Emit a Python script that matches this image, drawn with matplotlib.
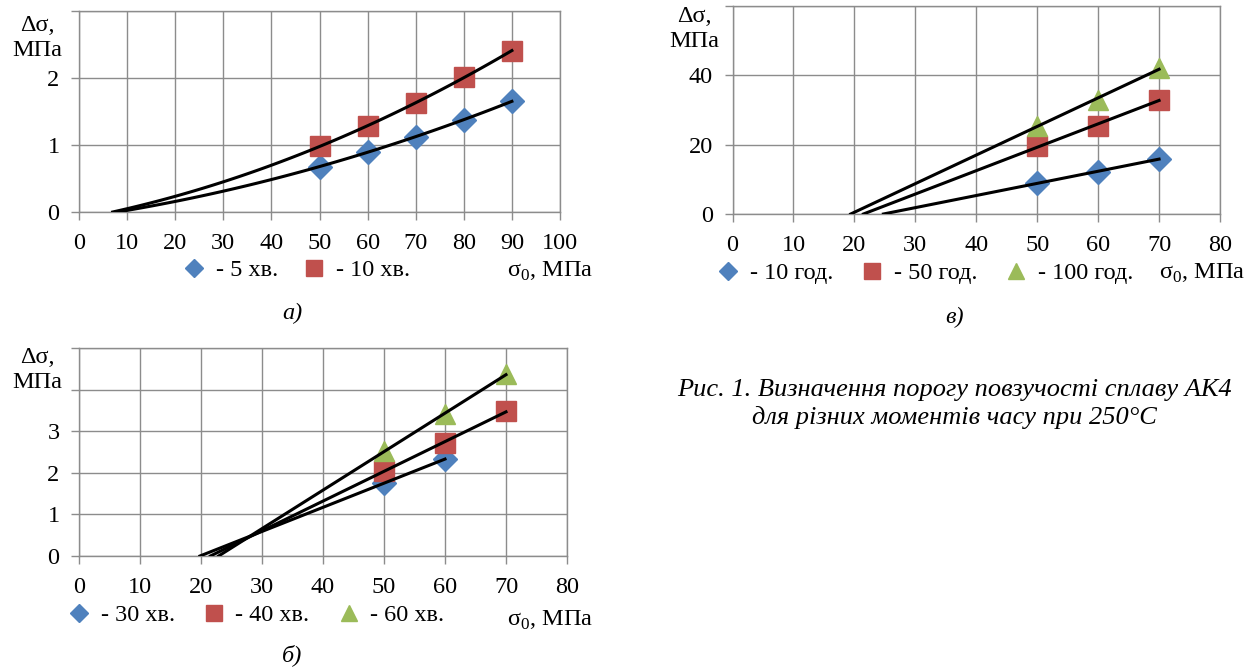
import numpy as np
import matplotlib
matplotlib.use("Agg")
import matplotlib.pyplot as plt

plt.rcParams['font.family'] = ['Liberation Serif', 'DejaVu Serif']
plt.rcParams['mathtext.fontset'] = 'custom'
plt.rcParams['mathtext.rm'] = 'Liberation Serif'

W, H = 1253, 672
BLUE, RED, GREEN = '#4F81BD', '#C0504D', '#9BBB59'
GRID = '#8c8c8c'
FS = 17.5

# panel а) : 5 and 10 minutes
a_x = [50, 60, 70, 80, 90]
a_5min = [0.67, 0.90, 1.12, 1.37, 1.65]
a_10min = [0.98, 1.28, 1.62, 2.01, 2.40]
a_thresholds = [8, 7]          # where trend curves meet zero
a_labels = ['- 5 хв.', '- 10 хв.']

# panel б) : 30, 40, 60 minutes
b_x30 = [50, 60]
b_30min = [1.75, 2.33]
b_x = [50, 60, 70]
b_40min = [2.05, 2.72, 3.48]
b_60min = [2.52, 3.41, 4.37]
b_labels = ['- 30 хв.', '- 40 хв.', '- 60 хв.']

# panel в) : 10, 50, 100 hours
c_x = [50, 60, 70]
c_10h = [9.0, 12.0, 16.0]
c_50h = [19.5, 25.5, 33.0]
c_100h = [25.5, 33.0, 42.0]
c_labels = ['- 10 год.', '- 50 год.', '- 100 год.']

fig = plt.figure(figsize=(W / 100, H / 100), dpi=100)


def px_axes(l, t, r, b):
    return fig.add_axes([l / W, 1 - b / H, (r - l) / W, (b - t) / H])


def style(ax, xmax, ymax, yticks, ylabels):
    ax.set_xlim(0, xmax)
    ax.set_ylim(0, ymax)
    ax.set_xticks(np.arange(0, xmax + 1, 10))
    ax.set_yticks(yticks)
    ax.set_yticklabels(ylabels)
    ax.grid(True, color=GRID, lw=1.0)
    ax.set_axisbelow(True)
    for s in ax.spines.values():
        s.set_color(GRID)
        s.set_linewidth(1.0)
    ax.tick_params(axis='both', direction='out', length=6, width=1.0,
                   color=GRID, labelsize=FS)
    ax.tick_params(axis='x', pad=9)
    ax.tick_params(axis='y', pad=8)


def linear_trend(ax, x, y):
    k, c = np.polyfit(x, y, 1)
    xs = np.array([-c / k, x[-1]])
    ax.plot(xs, k * xs + c, color='black', lw=2.2, zorder=4)


def curve_trend(ax, x, y, x0):
    x = np.asarray(x, float)
    d = x - x0
    A = np.column_stack([d, d ** 2])
    coef = np.linalg.lstsq(A, np.asarray(y), rcond=None)[0]
    xs = np.linspace(x0, x[-1], 100)
    ds = xs - x0
    ax.plot(xs, coef[0] * ds + coef[1] * ds ** 2, color='black', lw=2.2, zorder=4)


def ylabel(x, y):
    fig.text(x / W, 1 - y / H, 'Δσ,\nМПа', ha='center', va='center',
             fontsize=FS, linespacing=1.25)


def xlabel(x, y):
    fig.text(x / W, 1 - y / H, 'σ$_\\mathregular{0}$, МПа', ha='right',
             va='center', fontsize=FS)


def legend(ax, handles, labels, x, y, colsp):
    ax.legend(handles, labels, loc='center left',
              bbox_to_anchor=(x / W, 1 - y / H), bbox_transform=fig.transFigure,
              ncol=len(labels), frameon=False, fontsize=FS, handlelength=0.8,
              handletextpad=0.5, columnspacing=colsp, borderpad=0,
              borderaxespad=0, markerscale=0.8)


MS = dict(D=12, s=14, **{'^': 14})

# ---- а)
ax = px_axes(79, 10.5, 560, 212)
style(ax, 100, 3, [0, 1, 2, 3], ['0', '1', '2', ''])
h1, = ax.plot(a_x, a_5min, 'D', color=BLUE, ms=MS['D'], ls='none', zorder=3)
h2, = ax.plot(a_x, a_10min, 's', color=RED, ms=MS['s'], ls='none', zorder=3)
curve_trend(ax, a_x, a_5min, a_thresholds[0])
curve_trend(ax, a_x, a_10min, a_thresholds[1])
ylabel(37, 38)
xlabel(593, 271)
legend(ax, [h1, h2], a_labels, 184, 270, 1.1)
fig.text(292 / W, 1 - 313 / H, 'а)', ha='center', va='center',
         fontsize=FS, style='italic')

# ---- в)
ax = px_axes(732.5, 6, 1220, 214)
style(ax, 80, 60, [0, 20, 40, 60], ['0', '20', '40', ''])
g1, = ax.plot(c_x, c_10h, 'D', color=BLUE, ms=MS['D'], ls='none', zorder=3)
g2, = ax.plot(c_x, c_50h, 's', color=RED, ms=MS['s'], ls='none', zorder=3)
g3, = ax.plot(c_x, c_100h, '^', color=GREEN, ms=MS['^'], ls='none', zorder=3)
for ys in (c_10h, c_50h, c_100h):
    linear_trend(ax, c_x, ys)
ylabel(694, 29)
xlabel(1245, 273)
legend(ax, [g1, g2, g3], c_labels, 718, 273, 1.2)
fig.text(955 / W, 1 - 317 / H, 'в)', ha='center', va='center',
         fontsize=FS, style='italic')

# ---- б)
ax = px_axes(79, 348, 567, 556)
style(ax, 80, 5, [0, 1, 2, 3, 4, 5], ['0', '1', '2', '3', '', ''])
k1, = ax.plot(b_x30, b_30min, 'D', color=BLUE, ms=MS['D'], ls='none', zorder=3)
k2, = ax.plot(b_x, b_40min, 's', color=RED, ms=MS['s'], ls='none', zorder=3)
k3, = ax.plot(b_x, b_60min, '^', color=GREEN, ms=MS['^'], ls='none', zorder=3)
linear_trend(ax, b_x30, b_30min)
linear_trend(ax, b_x, b_40min)
linear_trend(ax, b_x, b_60min)
ylabel(37, 370)
xlabel(593, 620)
legend(ax, [k1, k2, k3], b_labels, 69, 615, 1.2)
fig.text(292 / W, 1 - 655 / H, 'б)', ha='center', va='center',
         fontsize=FS, style='italic')

# caption
fig.text(954 / W, 1 - 404 / H,
         'Рис. 1. Визначення порогу повзучості сплаву АК4\n'
         'для різних моментів часу при 250°С',
         ha='center', va='center', fontsize=19, style='italic',
         linespacing=1.25)

fig.savefig('out.png', dpi=100)
